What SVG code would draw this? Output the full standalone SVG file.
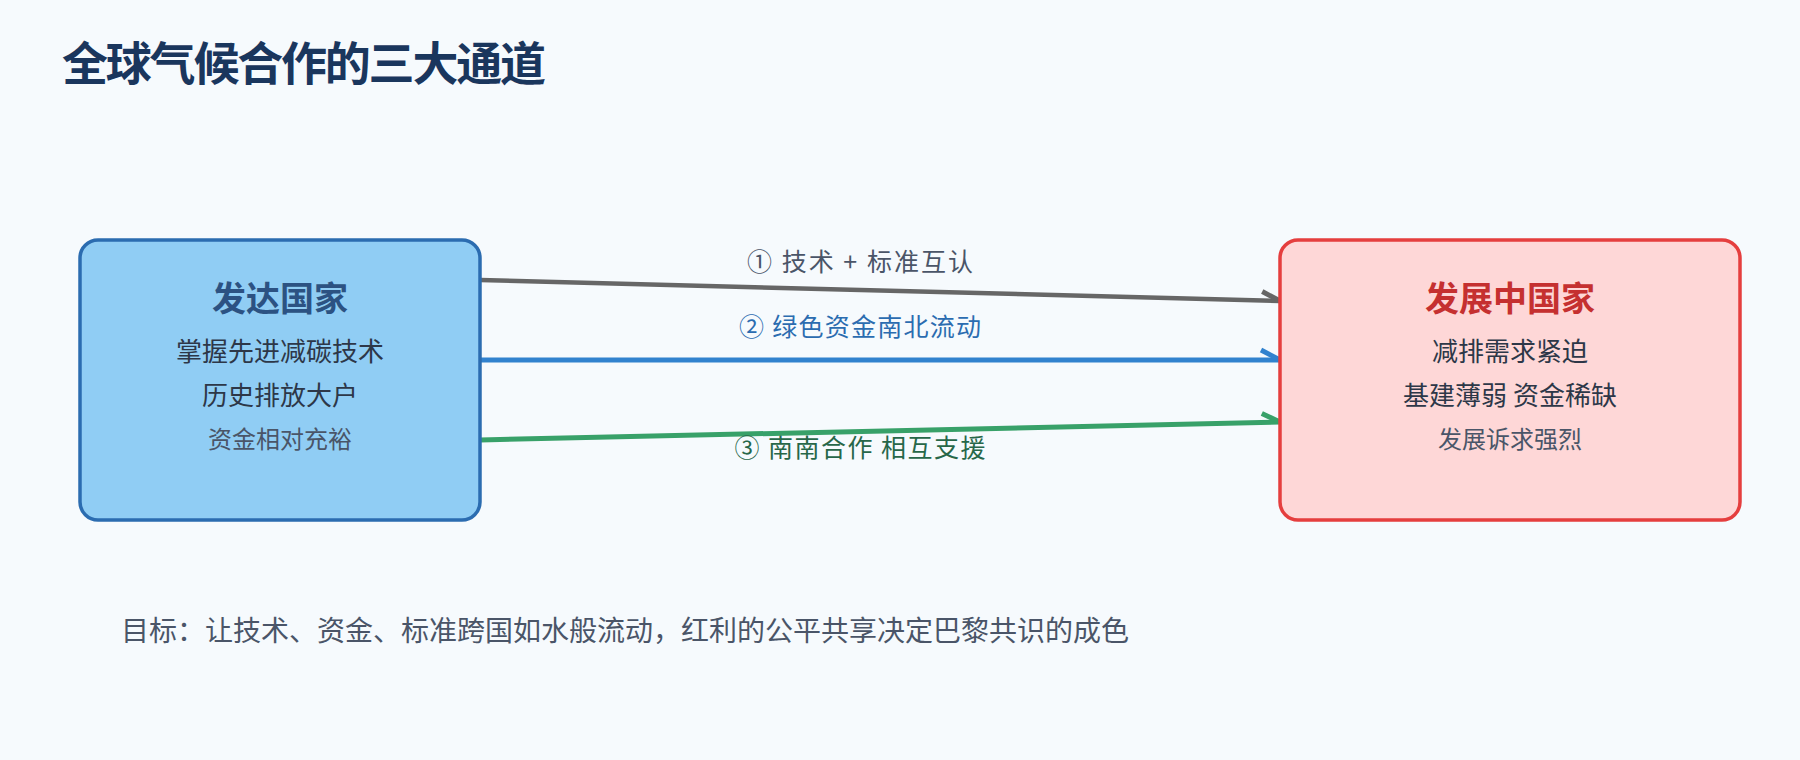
<svg xmlns="http://www.w3.org/2000/svg" width="1800" height="760" viewBox="0 0 1800 760">
  <style>
    text { font-family: "Noto Sans CJK SC", "Noto Sans", sans-serif; }
    .title { font-size: 46px; font-weight: 700; fill: #1a365d; }
    .ntitle { font-size: 34px; font-weight: 700; text-anchor: middle; }
    .body { font-size: 26px; fill: #2d3748; text-anchor: middle; }
    .sub { font-size: 24px; fill: #4a5568; text-anchor: middle; }
    .lbl { font-size: 25px; text-anchor: middle; }
    .conn { fill: none; stroke-linecap: butt; }
    .foot { font-size: 28px; fill: #4a5568; }
  </style>
  <defs>
    <marker id="arrGray" markerUnits="userSpaceOnUse" viewBox="0 0 20 20" markerWidth="20" markerHeight="20" refX="19" refY="10" orient="auto" overflow="visible">
      <path d="M1,1 L19,10" fill="none" stroke="#666666" stroke-width="5"/>
    </marker>
    <marker id="arrBlue" markerUnits="userSpaceOnUse" viewBox="0 0 20 20" markerWidth="20" markerHeight="20" refX="19" refY="10" orient="auto" overflow="visible">
      <path d="M0,0 L19,10" fill="none" stroke="#3182ce" stroke-width="5"/>
    </marker>
    <marker id="arrGreen" markerUnits="userSpaceOnUse" viewBox="0 0 20 20" markerWidth="20" markerHeight="20" refX="19" refY="10" orient="auto" overflow="visible">
      <path d="M1,1 L19,10" fill="none" stroke="#38a169" stroke-width="5"/>
    </marker>
  </defs>

  <rect x="0" y="0" width="1800" height="760" fill="#f6fafd"/>

  <text class="title" x="62" y="80" textLength="484" lengthAdjust="spacing">全球气候合作的三大通道</text>

  <g id="connectors">
    <g id="conn-tech">
      <line class="conn" x1="480" y1="280" x2="1280" y2="301" stroke="#666666" stroke-width="4.5" marker-end="url(#arrGray)"/>
      <text class="lbl" x="860" y="271" fill="#4a5568" textLength="226" lengthAdjust="spacing">① 技术 + 标准互认</text>
    </g>
    <g id="conn-finance">
      <line class="conn" x1="480" y1="360" x2="1280" y2="360" stroke="#3182ce" stroke-width="5" marker-end="url(#arrBlue)"/>
      <text class="lbl" x="860" y="336" fill="#2b6cb0" textLength="242" lengthAdjust="spacing">② 绿色资金南北流动</text>
    </g>
    <g id="conn-south">
      <line class="conn" x1="480" y1="440" x2="1280" y2="422" stroke="#38a169" stroke-width="5" marker-end="url(#arrGreen)"/>
      <text class="lbl" x="860" y="457" fill="#276749" textLength="251" lengthAdjust="spacing">③ 南南合作 相互支援</text>
    </g>
  </g>

  <g id="node-developed">
    <rect x="80" y="240" width="400" height="280" rx="18" ry="18" fill="#90cdf4" stroke="#2b6cb0" stroke-width="3.5"/>
    <text class="ntitle" x="280" y="311" fill="#2c5282" textLength="136" lengthAdjust="spacing">发达国家</text>
    <text class="body" x="280" y="361">掌握先进减碳技术</text>
    <text class="body" x="280" y="405">历史排放大户</text>
    <text class="sub" x="280" y="448">资金相对充裕</text>
  </g>

  <g id="node-developing">
    <rect x="1280" y="240" width="460" height="280" rx="18" ry="18" fill="#fed7d7" stroke="#e53e3e" stroke-width="3.5"/>
    <text class="ntitle" x="1510" y="311" fill="#c53030" textLength="170" lengthAdjust="spacing">发展中国家</text>
    <text class="body" x="1510" y="361">减排需求紧迫</text>
    <text class="body" x="1510" y="405">基建薄弱 资金稀缺</text>
    <text class="sub" x="1510" y="448">发展诉求强烈</text>
  </g>

  <text class="foot" x="121" y="641" textLength="1008" lengthAdjust="spacing">目标：让技术、资金、标准跨国如水般流动，红利的公平共享决定巴黎共识的成色</text>
</svg>
